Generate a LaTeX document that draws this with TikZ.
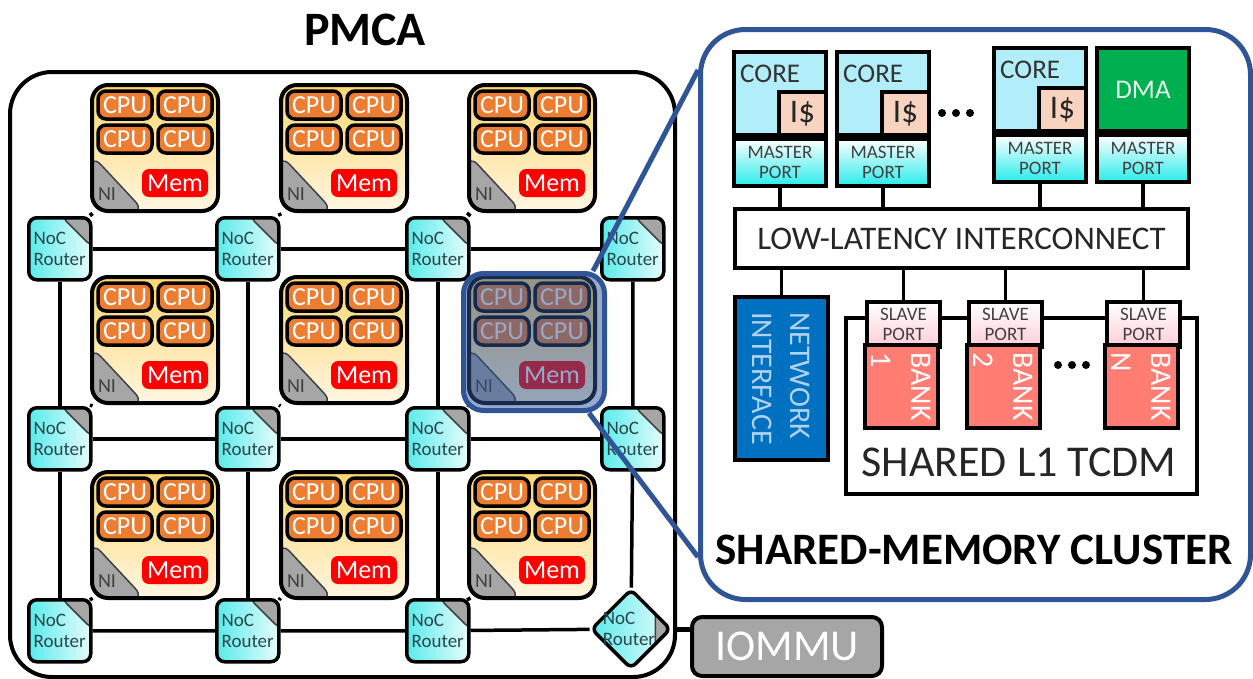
\documentclass[tikz,border=0pt]{standalone}
\usepackage{fontspec}
\setmainfont{Carlito}
\usetikzlibrary{positioning,shapes.geometric}

\definecolor{clusterblue}{RGB}{47,85,151}
\definecolor{cpuorange}{RGB}{237,125,49}
\definecolor{memred}{RGB}{255,0,0}
\definecolor{nigrey}{RGB}{166,166,166}
\definecolor{routertxt}{RGB}{40,70,75}
\definecolor{routercyan}{RGB}{90,235,235}
\definecolor{tiletop}{RGB}{255,215,110}
\definecolor{tilebot}{RGB}{255,246,226}
\definecolor{corecyan}{RGB}{178,238,250}
\definecolor{icachepeach}{RGB}{248,212,192}
\definecolor{portcyan}{RGB}{40,235,235}
\definecolor{dmagreen}{RGB}{0,176,80}
\definecolor{niblue}{RGB}{0,112,192}
\definecolor{nitext}{RGB}{175,210,240}
\definecolor{slavepink}{RGB}{255,205,215}
\definecolor{banksalmon}{RGB}{255,125,115}
\definecolor{labelgrey}{RGB}{64,64,64}

\begin{document}
\begin{tikzpicture}[
  x=1pt, y=-1pt,
  link/.style={line width=3.5pt},
  heading/.style={font=\bfseries\fontsize{48}{56}\selectfont},
  pmca/.style={draw, line width=4pt, rounded corners=42pt, minimum width=665pt, minimum height=605pt, anchor=north west},
  tilebox/.style={draw, line width=4pt, rounded corners=16pt, minimum width=126pt, minimum height=126pt, anchor=north west, inner sep=0pt,
    top color=tiletop, bottom color=tilebot,
    path picture={\filldraw[nigrey, draw=black!75, line width=1.5pt] (path picture bounding box.south west) ++(-2,2) -- ++(0,-60) -- ++(56,60) -- cycle;}},
  cpu/.style={draw, line width=3.5pt, fill=cpuorange, rounded corners=8pt, minimum width=54pt, minimum height=28pt, inner sep=0pt, text=white, font=\fontsize{26}{28}\selectfont},
  mem/.style={fill=memred, rounded corners=7pt, minimum width=66pt, minimum height=28pt, inner sep=0pt, text=white, font=\fontsize{26}{28}\selectfont},
  nilabel/.style={text=labelgrey, inner sep=0pt, font=\fontsize{20}{22}\selectfont},
  tile/.pic={
    \node[tilebox] (-box) at (0,0) {};
    \node[cpu] (-c1) at (35,22) {CPU};
    \node[cpu] (-c2) at (95,22) {CPU};
    \node[cpu] (-c3) at (35,56) {CPU};
    \node[cpu] (-c4) at (95,56) {CPU};
    \node[mem] (-mem) at (85,100) {Mem};
    \node[nilabel] (-ni) at (17,111) {NI};
  },
  router/.style={draw, line width=3.5pt, rounded corners=8pt, minimum width=62pt, minimum height=62pt, anchor=north west, inner sep=0pt,
    align=left, text=routertxt, font=\fontsize{19}{21}\selectfont,
    left color=routercyan, right color=white!85!routercyan,
    path picture={\filldraw[nigrey, draw=black!75, line width=1.5pt] (path picture bounding box.north east) ++(2,-2) -- ++(-32,0) -- ++(32,32) -- cycle;}},
  dia/.style={draw, diamond, line width=3.5pt, rounded corners=6pt, minimum width=80pt, minimum height=80pt, inner sep=0pt,
    left color=routercyan, right color=white!85!routercyan,
    path picture={\filldraw[nigrey, draw=black!75, line width=1.5pt] ([xshift=-15pt,yshift=5pt]path picture bounding box.north east) rectangle ([xshift=5pt,yshift=-5pt]path picture bounding box.south east);}},
  diatxt/.style={align=left, text=routertxt, inner sep=0pt, font=\fontsize{19}{21}\selectfont},
  highlight/.style={draw=clusterblue, line width=5pt, fill=clusterblue, fill opacity=0.5, rounded corners=20pt, minimum width=141pt, minimum height=137pt, anchor=north west},
  zoomline/.style={draw=clusterblue, line width=5pt},
  panel/.style={draw=clusterblue, line width=5pt, rounded corners=45pt, minimum width=550pt, minimum height=570pt, anchor=north west},
  corebox/.style={draw, line width=4pt, fill=corecyan, minimum width=92pt, minimum height=83pt, anchor=north west, inner sep=0pt},
  coretxt/.style={inner sep=0pt, text=black!80, font=\fontsize{27}{30}\selectfont},
  dmabox/.style={corebox, fill=dmagreen, text=white!90!dmagreen, font=\fontsize{27}{30}\selectfont},
  icache/.style={draw, line width=4pt, fill=icachepeach, minimum width=47pt, minimum height=43pt, anchor=south east, inner sep=0pt, text=black!85, font=\fontsize{33}{36}\selectfont},
  mport/.style={draw, line width=4pt, top color=white, bottom color=portcyan, minimum width=92pt, minimum height=47pt, anchor=north, inner sep=0pt,
    align=center, text=labelgrey, font=\fontsize{19}{20}\selectfont},
  xbarbox/.style={draw, line width=4pt, fill=white, minimum width=453pt, minimum height=59pt, anchor=north west, text=black!85, font=\fontsize{33}{36}\selectfont},
  nibox/.style={draw, line width=4pt, fill=niblue, rotate=-90, minimum width=163pt, minimum height=93pt, inner sep=0pt, align=left, text=nitext, font=\fontsize{30}{38}\selectfont},
  tcdmbox/.style={draw, line width=4pt, fill=white, minimum width=351pt, minimum height=176pt, anchor=north west},
  sport/.style={draw, line width=4pt, top color=white, bottom color=slavepink, minimum width=73pt, minimum height=45pt, anchor=north west, inner sep=0pt,
    align=center, text=labelgrey, font=\fontsize{19}{20}\selectfont},
  bank/.style={draw, line width=4pt, fill=banksalmon, rotate=-90, minimum width=83pt, minimum height=73pt, inner sep=0pt, align=left, text=white, font=\fontsize{30}{40}\selectfont},
  iommu/.style={draw, line width=4pt, fill=nigrey, rounded corners=10pt, minimum width=190pt, minimum height=59pt, anchor=north west, text=white, font=\fontsize{44}{48}\selectfont}
]
\useasboundingbox (0,0) rectangle (1253,678);

% many-core accelerator
\node[heading] (pmcatitle) at (365,30) {PMCA};
\node[pmca] (pmca) at (8,70) {};

\node[router] (ra1) at (27,216) {NoC\\Router};
\node[router] (ra2) at (215,216) {NoC\\Router};
\node[router] (ra3) at (405,216) {NoC\\Router};
\node[router] (ra4) at (600,216) {NoC\\Router};
\node[router] (rb1) at (27,406) {NoC\\Router};
\node[router] (rb2) at (215,406) {NoC\\Router};
\node[router] (rb3) at (405,406) {NoC\\Router};
\node[router] (rb4) at (600,406) {NoC\\Router};
\node[router] (rc1) at (27,598) {NoC\\Router};
\node[router] (rc2) at (215,598) {NoC\\Router};
\node[router] (rc3) at (405,598) {NoC\\Router};
\node[dia] (rc4) at (631,629) {};
\node[diatxt] (rc4t) at (629,629) {NoC\\Router};

\draw[link] (ra1) -- (ra2) (ra2) -- (ra3) (ra3) -- (ra4);
\draw[link] (rb1) -- (rb2) (rb2) -- (rb3) (rb3) -- (rb4);
\draw[link] (rc1) -- (rc2) (rc2) -- (rc3) (rc3) -- (rc4);
\draw[link] (ra1) -- (rb1) (rb1) -- (rc1);
\draw[link] (ra2) -- (rb2) (rb2) -- (rc2);
\draw[link] (ra3) -- (rb3) (rb3) -- (rc3);
\draw[link] (ra4) -- (rb4) (rb4) -- (rc4);

\pic (t11) at (90,83) {tile};
\pic (t12) at (279,83) {tile};
\pic (t13) at (467,83) {tile};
\pic (t21) at (90,275) {tile};
\pic (t22) at (279,275) {tile};
\pic (t23) at (467,275) {tile};
\pic (t31) at (90,470) {tile};
\pic (t32) at (279,470) {tile};
\pic (t33) at (467,470) {tile};

\draw[link] (t11-box.south west) -- (ra1.north east);
\draw[link] (t12-box.south west) -- (ra2.north east);
\draw[link] (t13-box.south west) -- (ra3.north east);
\draw[link] (t21-box.south west) -- (rb1.north east);
\draw[link] (t22-box.south west) -- (rb2.north east);
\draw[link] (t23-box.south west) -- (rb3.north east);
\draw[link] (t31-box.south west) -- (rc1.north east);
\draw[link] (t32-box.south west) -- (rc2.north east);
\draw[link] (t33-box.south west) -- (rc3.north east);

\node[iommu] (iommu) at (690,615) {IOMMU};
\draw[line width=5pt] (rc4.east) -- (rc4.east -| iommu.west);

% zoom on one cluster
\node[highlight] (hl) at (461,271) {};
\node[panel] (cluster) at (698,27) {};
\draw[zoomline] ([xshift=-14pt]hl.north east) -- ([yshift=-43pt]cluster.north west);
\draw[zoomline] ([xshift=-18pt]hl.south east) -- ([yshift=45pt]cluster.south west);

\node[corebox] (core1) at (732,50) {};
\node[coretxt, below right=15pt and 8pt of core1.north west] (core1t) {CORE};
\node[icache] (ic1) at (core1.south east) {I\$};
\node[mport, below=0pt of core1] (mp1) {MASTER\\PORT};

\node[corebox] (core2) at (835,50) {};
\node[coretxt, below right=15pt and 8pt of core2.north west] (core2t) {CORE};
\node[icache] (ic2) at (core2.south east) {I\$};
\node[mport, below=0pt of core2] (mp2) {MASTER\\PORT};

\node[corebox] (core3) at (992,46) {};
\node[coretxt, below right=15pt and 8pt of core3.north west] (core3t) {CORE};
\node[icache] (ic3) at (core3.south east) {I\$};
\node[mport, below=0pt of core3] (mp3) {MASTER\\PORT};

\node[dmabox] (dma) at (1095,46) {DMA};
\node[mport, below=0pt of dma] (mp4) {MASTER\\PORT};

\fill (942,113) circle (4) (956,113) circle (4) (970,113) circle (4);

\node[xbarbox] (xbar) at (733,207) {LOW-LATENCY INTERCONNECT};
\draw[link] (mp1.south) -- (mp1.south |- xbar.north);
\draw[link] (mp2.south) -- (mp2.south |- xbar.north);
\draw[link] (mp3.south) -- (mp3.south |- xbar.north);
\draw[link] (mp4.south) -- (mp4.south |- xbar.north);

\node[nibox] (ni) at (781.5,378.5) {NETWORK\\INTERFACE};
\node[tcdmbox] (tcdm) at (844,316) {};
\node[font=\fontsize{44}{48}\selectfont, text=black!85] (tcdmlbl) at (1019,462) {SHARED L1 TCDM};

\node[sport] (sp1) at (865,300) {SLAVE\\PORT};
\node[sport] (sp2) at (967,300) {SLAVE\\PORT};
\node[sport] (sp3) at (1105,300) {SLAVE\\PORT};
\node[bank] (bk1) at (901.5,386.5) {BANK\\1};
\node[bank] (bk2) at (1003.5,386.5) {BANK\\2};
\node[bank] (bk3) at (1141.5,386.5) {BANK\\N};
\fill (1058,365) circle (4) (1072,365) circle (4) (1086,365) circle (4);

\draw[link] (ni.west) -- (ni.west |- xbar.south);
\draw[link] (sp1.north) -- (sp1.north |- xbar.south);
\draw[link] (sp2.north) -- (sp2.north |- xbar.south);
\draw[link] (sp3.north) -- (sp3.north |- xbar.south);

\node[heading, font=\bfseries\fontsize{45}{52}\selectfont] (clustertitle) at (974,550) {SHARED-MEMORY CLUSTER};
\end{tikzpicture}
\end{document}
